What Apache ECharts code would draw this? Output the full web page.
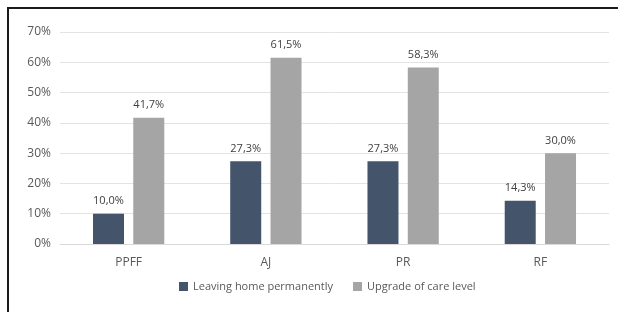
<!DOCTYPE html>
<html>
<head>
    <meta http-equiv="Content-Type" content="text/html; charset=utf-8" />
    <title>ECharts</title>
    <script src="https://cdn.jsdelivr.net/npm/echarts@6/dist/echarts.min.js"></script>
    <style>
        body { margin: 0; background: #fff; }
    </style>
</head>
<body>
    <div id="main" style="width: 618px;height:312px;"></div>
    <script type="text/javascript">

    // data
    var categories = ['PPFF', 'AJ', 'PR', 'RF'];
    var leavingHome = [10.0, 27.3, 27.3, 14.3];
    var upgradeCare = [41.7, 61.5, 58.3, 30.0];
    var seriesNames = ['Leaving home permanently', 'Upgrade of care level'];

    var myChart = echarts.init(document.getElementById('main'));

    var fontFamily = '"Open Sans", "Noto Sans", sans-serif';

    function pct(p) {
        return p.value.toFixed(1).replace('.', ',') + '%';
    }

    option = {
        animation: false,
        textStyle: { fontFamily: fontFamily },
        graphic: [{
            type: 'polyline',
            shape: { points: [[8, 312], [8, 8], [618, 8]] },
            style: { stroke: '#1a1a1a', lineWidth: 2, fill: null }
        }],
        legend: {
            bottom: 15,
            left: 174,
            itemWidth: 9,
            itemHeight: 9,
            itemGap: 20,
            icon: 'rect',
            textStyle: { color: '#595959', fontSize: 11, fontFamily: fontFamily },
            data: seriesNames
        },
        grid: {
            left: 60,
            right: 9,
            top: 32,
            bottom: 68
        },
        xAxis: {
            type: 'category',
            data: categories,
            axisTick: { show: false },
            axisLine: { lineStyle: { color: '#d9d9d9' } },
            axisLabel: { color: '#595959', fontSize: 12, margin: 13 }
        },
        yAxis: {
            type: 'value',
            min: 0,
            max: 70,
            interval: 10,
            axisLabel: { color: '#595959', fontSize: 12, margin: 9, formatter: '{value}%' },
            splitLine: { lineStyle: { color: '#e3e3e3' } }
        },
        series: [
            {
                name: seriesNames[0],
                type: 'bar',
                data: leavingHome,
                barWidth: 31,
                barGap: '30%',
                itemStyle: { color: '#44546a' },
                label: { show: true, position: 'top', distance: 7, color: '#404040', fontSize: 11, formatter: pct }
            },
            {
                name: seriesNames[1],
                type: 'bar',
                data: upgradeCare,
                barWidth: 31,
                itemStyle: { color: '#a5a5a5' },
                label: { show: true, position: 'top', distance: 7, color: '#404040', fontSize: 11, formatter: pct }
            }
        ]
    };

    myChart.setOption(option);
    </script>
</body>
</html>
